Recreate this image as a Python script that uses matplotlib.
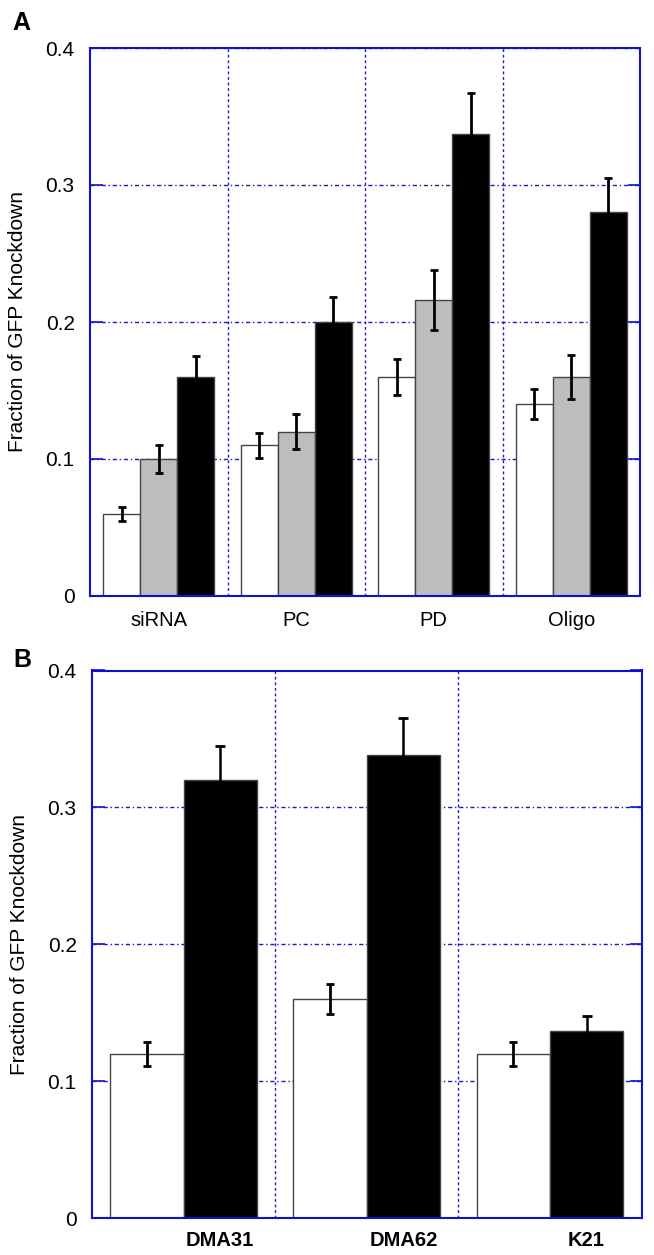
import numpy as np
import matplotlib
matplotlib.use("Agg")
import matplotlib.pyplot as plt

plt.rcParams['font.family'] = ['Liberation Sans', 'DejaVu Sans']

# panel A data
groups_a = ["siRNA", "PC", "PD", "Oligo"]
white_a = [0.06, 0.11, 0.16, 0.14]
white_a_err = [0.005, 0.009, 0.013, 0.011]
gray_a = [0.10, 0.12, 0.216, 0.16]
gray_a_err = [0.010, 0.0125, 0.022, 0.016]
black_a = [0.16, 0.20, 0.337, 0.280]
black_a_err = [0.015, 0.018, 0.030, 0.025]

# panel B data
groups_b = ["DMA31", "DMA62", "K21"]
white_b = [0.12, 0.16, 0.12]
white_b_err = [0.0085, 0.011, 0.0085]
black_b = [0.32, 0.338, 0.137]
black_b_err = [0.025, 0.027, 0.011]

yticks = [0, 0.1, 0.2, 0.3, 0.4]
ytick_labels = ["0", "0.1", "0.2", "0.3", "0.4"]

blue = "#1010d0"
grid_blue = "#1a1ac8"
edge = "#444444"

W, H = 654, 1255
fig = plt.figure(figsize=(W / 100, H / 100), dpi=100)

axA = fig.add_axes([90 / W, 1 - 596 / H, 550 / W, 548 / H])
axB = fig.add_axes([92 / W, 1 - 1218.3 / H, 549.5 / W, 547.8 / H])


def style_axes(ax):
    ax.set_ylim(0, 0.4)
    ax.set_yticks(yticks)
    ax.set_yticklabels(ytick_labels)
    ax.set_axisbelow(True)
    for s in ax.spines.values():
        s.set_color(blue)
        s.set_linewidth(1.5)
        s.set_zorder(5)
    ax.tick_params(axis='y', direction='in', length=9, width=1.2, color=blue,
                   left=True, right=True, labelsize=15, pad=11)
    ax.tick_params(axis='x', which='both', length=0, labelsize=14.5)
    ax.grid(axis='y', which='major', color=grid_blue, linestyle=(0, (3, 2, 1, 2)), linewidth=1.0)
    ax.grid(axis='x', which='minor', color=grid_blue, linestyle=(0, (2, 2)), linewidth=1.0)
    ax.set_ylabel("Fraction of GFP Knockdown", fontsize=15)
    ax.yaxis.set_label_coords(-0.115, 0.5)


# ---- panel A
x = np.arange(len(groups_a))
w = 0.27
ekw = dict(elinewidth=2.0, capthick=2.0, capsize=3.2, ecolor='black')
axA.bar(x - w, white_a, w, color='white', edgecolor=edge, linewidth=1.0,
        yerr=white_a_err, error_kw=ekw, zorder=3)
axA.bar(x, gray_a, w, color='#bdbdbd', edgecolor=edge, linewidth=1.0,
        yerr=gray_a_err, error_kw=ekw, zorder=3)
axA.bar(x + w, black_a, w, color='black', edgecolor=edge, linewidth=1.0,
        yerr=black_a_err, error_kw=ekw, zorder=3)
axA.set_xlim(-0.5, len(groups_a) - 0.5)
axA.set_xticks(x)
axA.set_xticklabels(groups_a)
axA.set_xticks(np.arange(len(groups_a) - 1) + 0.5, minor=True)
style_axes(axA)
axA.tick_params(axis='x', pad=11)

# ---- panel B
xb = np.arange(len(groups_b))
wb = 0.4
axB.bar(xb - wb / 2, white_b, wb, color='white', edgecolor=edge, linewidth=1.0,
        yerr=white_b_err, error_kw=ekw, zorder=3)
axB.bar(xb + wb / 2, black_b, wb, color='black', edgecolor=edge, linewidth=1.0,
        yerr=black_b_err, error_kw=dict(elinewidth=1.8, capthick=2.0, capsize=3.6, ecolor='black'),
        zorder=3)
axB.set_xlim(-0.5, len(groups_b) - 0.5)
axB.set_xticks(xb + wb / 2)
axB.set_xticklabels(groups_b, fontweight='bold')
axB.set_xticks(np.arange(len(groups_b) - 1) + 0.5, minor=True)
style_axes(axB)
axB.tick_params(axis='x', pad=9)

fig.text(21 / W, 1 - 23 / H, "A", fontsize=18, fontweight='bold', ha='center', va='center')
fig.text(22 / W, 1 - 660 / H, "B", fontsize=18, fontweight='bold', ha='center', va='center')

fig.savefig("out.png", dpi=100)
